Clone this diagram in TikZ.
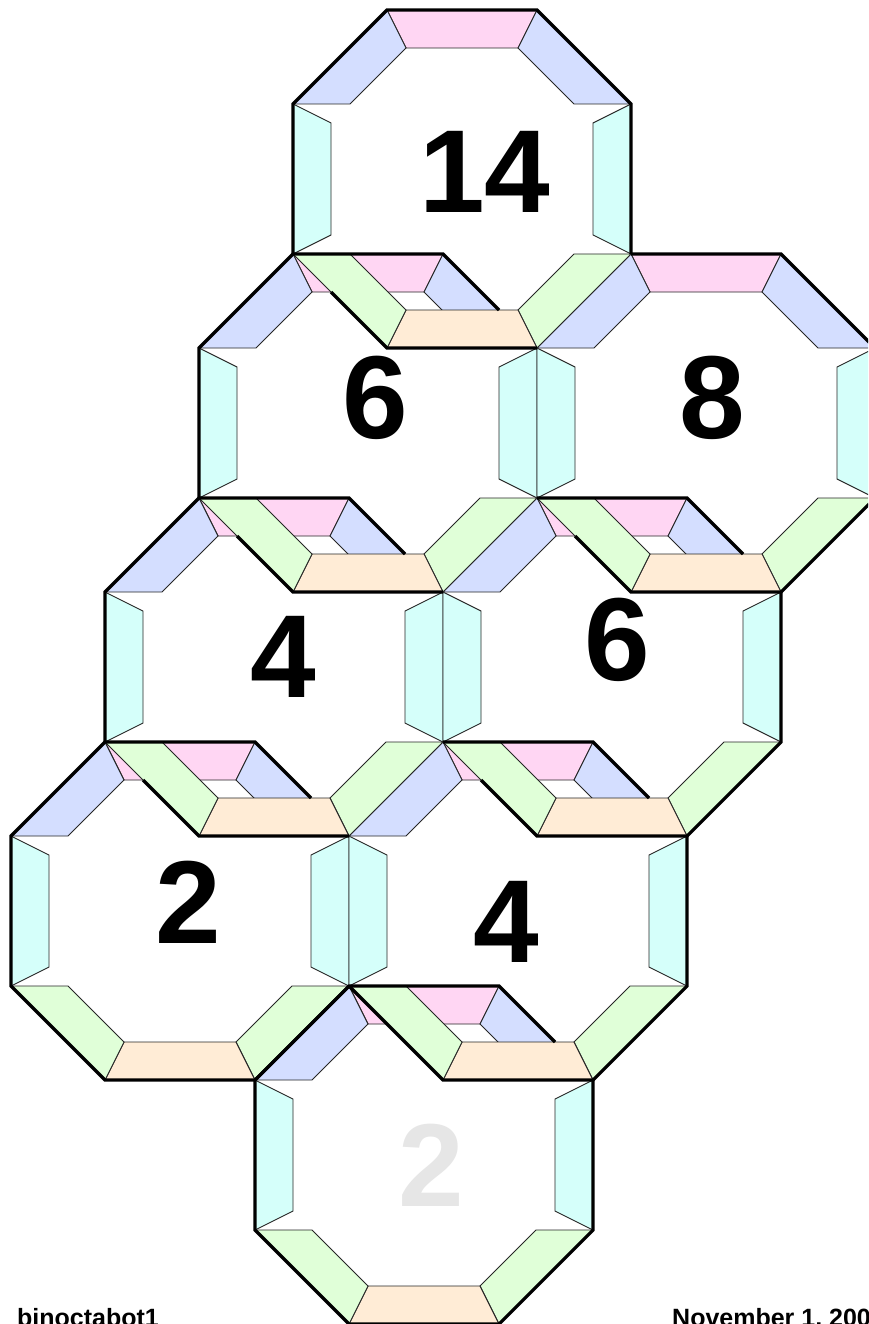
\documentclass[tikz,border=0pt]{standalone}
\usepackage{fontspec}
\setmainfont{Liberation Sans}
\definecolor{pk}{RGB}{255,214,243}
\definecolor{bl}{RGB}{212,222,255}
\definecolor{cy}{RGB}{213,255,250}
\definecolor{gr}{RGB}{224,255,216}
\definecolor{orn}{RGB}{255,236,214}
\definecolor{ghost}{RGB}{230,230,230}
\tikzset{
  piece/.style={draw=black!85, line width=0.9pt, line join=miter},
  rim/.style={line width=3.2pt, line join=miter, line cap=butt},
  num/.style={font=\fontsize{118}{118}\selectfont\bfseries, inner sep=0pt, anchor=center},
  foot/.style={font=\fontsize{25}{25}\selectfont\bfseries, inner sep=0pt, anchor=base west},
}
\newcommand{\octring}[3]{%
  \begin{scope}[shift={(#2,#3)}]
    \coordinate (#1-0) at (-75,-169);
    \coordinate (#1-1) at (75,-169);
    \coordinate (#1-2) at (169,-75);
    \coordinate (#1-3) at (169,75);
    \coordinate (#1-4) at (75,169);
    \coordinate (#1-5) at (-75,169);
    \coordinate (#1-6) at (-169,75);
    \coordinate (#1-7) at (-169,-75);
    \coordinate (#1-p) at (-131,113);
    \coordinate (#1-q) at (131,-113);
    \filldraw[piece, fill=pk] (-75,-169) -- (75,-169) -- (56,-131) -- (-56,-131) -- cycle;
    \filldraw[piece, fill=bl] (75,-169) -- (169,-75) -- (112,-75) -- (56,-131) -- cycle;
    \filldraw[piece, fill=cy] (169,-75) -- (169,75) -- (131,56) -- (131,-56) -- cycle;
    \filldraw[piece, fill=gr] (169,75) -- (75,169) -- (56,131) -- (112,75) -- cycle;
    \filldraw[piece, fill=orn] (75,169) -- (-75,169) -- (-56,131) -- (56,131) -- cycle;
    \filldraw[piece, fill=gr] (-75,169) -- (-169,75) -- (-112,75) -- (-56,131) -- cycle;
    \filldraw[piece, fill=cy] (-169,75) -- (-169,-75) -- (-131,-56) -- (-131,56) -- cycle;
    \filldraw[piece, fill=bl] (-169,-75) -- (-75,-169) -- (-56,-131) -- (-112,-75) -- cycle;
  \end{scope}}
\begin{document}
\begin{tikzpicture}[x=1pt,y=-1pt]
\useasboundingbox (0,0) rectangle (868,1324);
\clip (0,0) rectangle (868,1324);
\fill[white] (0,0) rectangle (868,1324);
% rings, lowest layer first
\octring{H}{424}{1155}
\octring{F}{180}{911}
\octring{G}{518}{911}
\octring{D}{274}{667}
\octring{E}{612}{667}
\octring{B}{368}{423}
\octring{C}{706}{423}
\octring{A}{462}{179}
% thick visible rims
\draw[rim] (A-p) -- (A-5) -- (A-4);
\draw[rim] (A-3) -- (A-2) -- (A-1) -- (A-0) -- (A-7) -- (A-6);
\draw[rim] (B-p) -- (B-5) -- (B-4);
\draw[rim] (B-q) -- (B-1) -- (B-0) -- (B-7) -- (B-6);
\draw[rim] (C-p) -- (C-5) -- (C-4) -- (C-3) -- (C-2) -- (C-1) -- (C-0);
\draw[rim] (D-p) -- (D-5) -- (D-4);
\draw[rim] (D-q) -- (D-1) -- (D-0) -- (D-7) -- (D-6);
\draw[rim] (E-q) -- (E-1) -- (E-0);
\draw[rim] (E-2) -- (E-3) -- (E-4) -- (E-5) -- (E-p);
\draw[rim] (F-q) -- (F-1) -- (F-0) -- (F-7) -- (F-6) -- (F-5) -- (F-4) -- (F-3);
\draw[rim] (G-q) -- (G-1) -- (G-0);
\draw[rim] (G-2) -- (G-3) -- (G-4) -- (G-5) -- (G-6);
\draw[rim] (H-q) -- (H-1) -- (H-0) -- (H-7) -- (H-6) -- (H-5) -- (H-4) -- (H-3) -- (H-2);
% numbers
\node[num] (n14) at (485,172) {14};
\node[num] (n6a) at (375,398) {6};
\node[num] (n8) at (712,398) {8};
\node[num] (n4a) at (283,657) {4};
\node[num] (n6b) at (617,640) {6};
\node[num] (n2a) at (188,902) {2};
\node[num] (n4b) at (506,922) {4};
\node[num, text=ghost] (n2b) at (431,1165) {2};
% footer (cut by the page edge, as in the reference)
\node[foot] (lbl) at (17,1326) {binoctabot1};
\node[foot] (date) at (672,1326) {November 1, 200};
\end{tikzpicture}
\end{document}
